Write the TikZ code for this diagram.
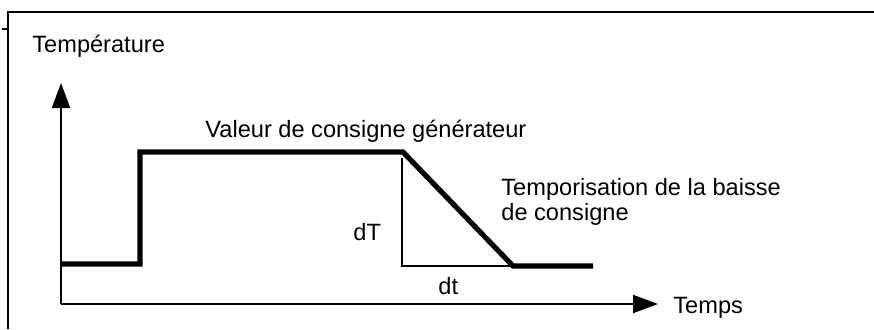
\documentclass[tikz,border=0pt]{standalone}
\usepackage{fontspec}
\setmainfont{Liberation Sans}
\usetikzlibrary{arrows.meta}
\begin{document}
\begin{tikzpicture}[x=0.5pt,y=-0.5pt,
  lbl/.style={inner sep=0pt,anchor=base west,font=\fontsize{11.8}{12.5}\selectfont},
  axis/.style={line width=1pt,-{Triangle[width=9pt,length=12.5pt]}},
  thin/.style={line width=0.9pt},
  signal/.style={line width=2.6pt,line join=miter},
  frame/.style={line width=1pt}]
\useasboundingbox (0,0) rectangle (874,329);
% frame
\coordinate (fTL) at (8,12);
\coordinate (fTR) at (874,12);
\coordinate (fBL) at (8,329);
\draw[frame] (fTR) -- (fTL) -- (fBL);
\coordinate (tA) at (2,29);
\coordinate (tB) at (8,29);
\draw[line width=0.6pt] (tA) -- (tB);
% axes
\coordinate (O) at (61,304);
\coordinate (Ytop) at (61,83);
\coordinate (Xend) at (658,304);
\draw[axis] (O) -- (Ytop);
\draw[axis] (O) -- (Xend);
% signal
\coordinate (s0) at (61,264);
\coordinate (s1) at (140,264);
\coordinate (s2) at (140,152);
\coordinate (s3) at (403,152);
\coordinate (s4) at (513,266);
\coordinate (s5) at (593,266);
% triangle
\coordinate (t1) at (402,158);
\coordinate (t2) at (402,266);
\draw[thin] (t1) -- (t2) -- (s4);
\draw[signal] (s0) -- (s1) -- (s2) -- (s3) -- (s4) -- (s5);
% labels
\node[lbl] (temp) at (32,52) {Température};
\node[lbl] (val) at (205,137) {Valeur de consigne générateur};
\node[lbl,align=left] (tempo) at (501,220) {Temporisation de la baisse\\de consigne};
\node[lbl] (dT) at (353,240) {dT};
\node[lbl] (dt) at (438,294) {dt};
\node[lbl] (temps) at (673,313) {Temps};
\end{tikzpicture}
\end{document}
